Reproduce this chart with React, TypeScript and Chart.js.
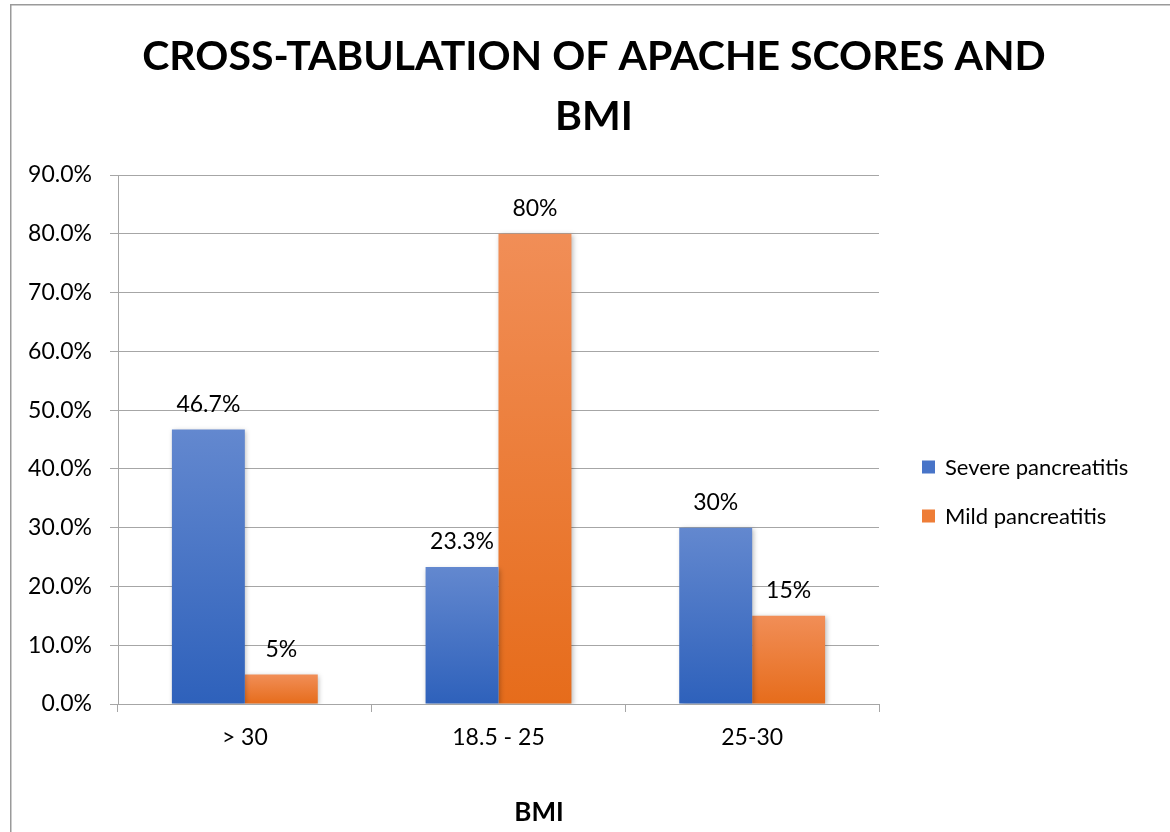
import React, { useEffect, useRef } from "react";
import { Chart, registerables } from "chart.js";

Chart.register(...registerables);

const categories = ["> 30", "18.5 - 25", "25-30"];
const seriesNames = ["Severe pancreatitis", "Mild pancreatitis"];
const severeValues = [46.7, 23.3, 30];
const mildValues = [5, 80, 15];
const severeLabels = ["46.7%", "23.3%", "30%"];
const mildLabels = ["5%", "80%", "15%"];
const titleLines = ["CROSS-TABULATION OF APACHE SCORES AND", "BMI"];
const xAxisTitle = "BMI";
const yMax = 90;
const yStep = 10;

const FONT = 'Lato, "Noto Sans", sans-serif';
const GRID = "#a6a6a6";

const palettes = [
  { top: "#6388cf", bottom: "#2e61bb", legend: "#4874c8" },
  { top: "#f18e57", bottom: "#e66c1b", legend: "#ee7d37" },
];

function barGradient(idx: number) {
  return (ctx: any) => {
    const chart = ctx.chart;
    const y = chart.scales && chart.scales.y;
    const pal = palettes[idx];
    if (!y || ctx.raw === undefined || ctx.type !== "data") return pal.legend;
    const top = y.getPixelForValue(ctx.raw);
    const base = y.getPixelForValue(0);
    if (!isFinite(top) || !isFinite(base) || top === base) return pal.legend;
    const g = chart.ctx.createLinearGradient(0, top, 0, base);
    g.addColorStop(0, pal.top);
    g.addColorStop(1, pal.bottom);
    return g;
  };
}

const decorPlugin = {
  id: "decor",
  beforeDraw(chart: any) {
    const c = chart.ctx;
    c.save();
    c.fillStyle = "#ffffff";
    c.fillRect(0, 0, chart.width, chart.height);
    c.strokeStyle = "#9a9a9a";
    c.lineWidth = 1.5;
    c.beginPath();
    c.moveTo(10.75, chart.height);
    c.lineTo(10.75, 4.75);
    c.lineTo(chart.width, 4.75);
    c.stroke();
    c.restore();
  },
  beforeDatasetsDraw(chart: any) {
    const c = chart.ctx;
    c.save();
    c.shadowColor = "rgba(0,0,0,0.28)";
    c.shadowBlur = 5;
    c.shadowOffsetX = 1.5;
    c.shadowOffsetY = 1.5;
  },
  afterDatasetsDraw(chart: any) {
    const c = chart.ctx;
    c.restore();
    c.save();
    c.font = `23px ${FONT}`;
    c.fillStyle = "#000";
    c.textAlign = "center";
    c.textBaseline = "middle";
    const labelSets = [severeLabels, mildLabels];
    chart.data.datasets.forEach((_ds: any, di: number) => {
      const meta = chart.getDatasetMeta(di);
      meta.data.forEach((el: any, i: number) => {
        c.fillText(labelSets[di][i], el.x, el.y - 25);
      });
    });
    c.restore();
  },
  afterDraw(chart: any) {
    const c = chart.ctx;
    c.save();
    c.fillStyle = "#000";
    c.textAlign = "center";
    c.textBaseline = "middle";
    // Title
    c.font = `bold 41px ${FONT}`;
    titleLines.forEach((t, i) => c.fillText(t, 594, 57 + i * 60));
    // X axis title
    c.font = `bold 26px ${FONT}`;
    c.fillText(xAxisTitle, 539, 813);
    // Legend
    c.font = `22px ${FONT}`;
    c.textAlign = "left";
    chart.data.datasets.forEach((ds: any, i: number) => {
      const cy = 467 + i * 49;
      c.fillStyle = palettes[i].legend;
      c.fillRect(922, cy - 6.5, 13, 13);
      c.fillStyle = "#000";
      c.fillText(ds.label, 945, cy + 1);
    });
    c.restore();
  },
};

export default function App() {
  const ref = useRef<HTMLCanvasElement>(null);
  useEffect(() => {
    if (!ref.current) return;
    Chart.defaults.font.family = FONT;
    const chart = new Chart(ref.current, {
      type: "bar",
      data: {
        labels: categories,
        datasets: [
          {
            label: seriesNames[0],
            data: severeValues,
            backgroundColor: barGradient(0) as any,
            borderWidth: 0,
            categoryPercentage: 0.575,
            barPercentage: 1,
          },
          {
            label: seriesNames[1],
            data: mildValues,
            backgroundColor: barGradient(1) as any,
            borderWidth: 0,
            categoryPercentage: 0.575,
            barPercentage: 1,
          },
        ],
      },
      options: {
        responsive: false,
        animation: false,
        layout: { padding: { top: 175, left: 10, right: 291, bottom: 0 } },
        plugins: {
          legend: { display: false },
          title: { display: false },
          tooltip: { enabled: false },
        },
        scales: {
          x: {
            grid: {
              offset: true,
              drawOnChartArea: false,
              drawTicks: true,
              tickLength: 8,
              color: GRID,
            },
            border: { display: true, color: GRID },
            ticks: { font: { size: 23 }, color: "#000", padding: 12 },
            afterFit: (s: any) => {
              s.height = 128;
            },
          },
          y: {
            min: 0,
            max: yMax,
            grid: { color: GRID, tickLength: 8, drawTicks: true },
            border: { display: true, color: GRID },
            ticks: {
              stepSize: yStep,
              font: { size: 23 },
              color: "#000",
              padding: 18,
              callback: (v: any) => Number(v).toFixed(1) + "%",
            },
            afterFit: (s: any) => {
              s.width = 108;
            },
          },
        },
      },
      plugins: [decorPlugin],
    });
    return () => chart.destroy();
  }, []);
  return (
    <div style={{ position: "absolute", left: 0, top: 0, width: 1170, height: 832 }}>
      <canvas ref={ref} width={1170} height={832} style={{ display: "block" }} />
    </div>
  );
}
